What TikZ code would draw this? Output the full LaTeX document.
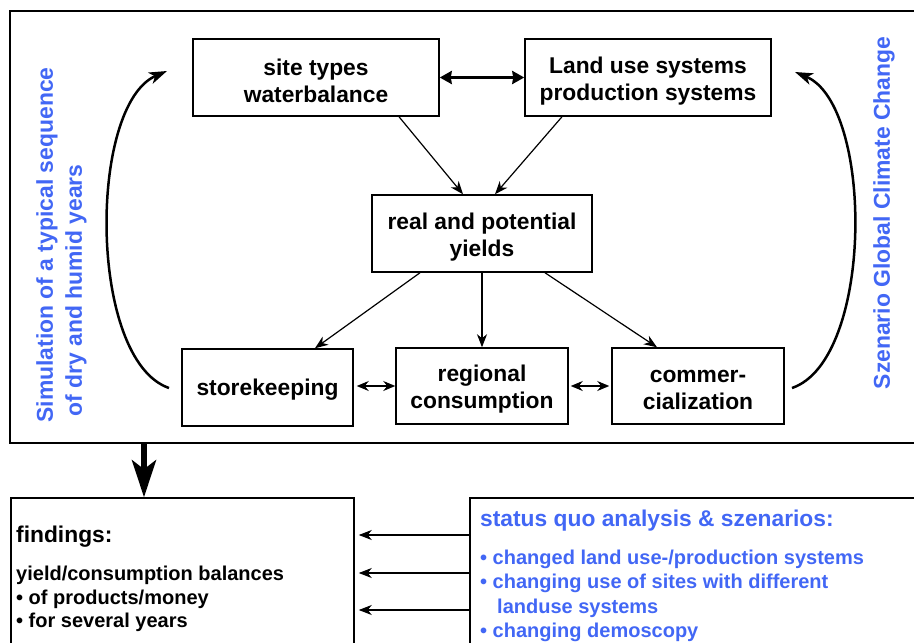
\documentclass[tikz,border=0pt]{standalone}
\usepackage{fontspec}
\setmainfont{Liberation Sans}
\usetikzlibrary{arrows.meta}
\definecolor{lblue}{RGB}{66,103,245}
\begin{document}
\begin{tikzpicture}[x=1pt,y=-1pt,
  box/.style={draw,line width=1.5pt,inner sep=0pt},
  boxtext/.style={align=center,inner sep=0pt,yshift=-3.5pt,
    font=\fontsize{22.8}{27}\selectfont\bfseries},
  frameBox/.style={draw,line width=1.5pt,inner sep=0pt},
  thinarrow/.style={line width=1.2pt,-{Stealth[length=13pt,width=10pt,inset=4pt]}},
  thindouble/.style={line width=1.2pt,{Stealth[length=12pt,width=10pt,inset=4pt]}-{Stealth[length=12pt,width=10pt,inset=4pt]}},
  thickdouble/.style={line width=3.5pt,{Stealth[length=12pt,width=13pt,inset=1pt]}-{Stealth[length=12pt,width=13pt,inset=1pt]}},
  curvearrow/.style={line width=2.5pt,-{Stealth[length=18pt,width=12pt,inset=5pt]}},
  bigarrow/.style={line width=6pt,-{Stealth[length=37pt,width=24pt,inset=9pt]}},
  vlabel/.style={rotate=90,text=lblue,inner sep=0pt,align=left,
    font=\fontsize{22.9}{29}\selectfont\bfseries},
  titletext/.style={inner sep=0pt,anchor=west,font=\fontsize{22.8}{27}\selectfont\bfseries},
  listtext/.style={inner sep=0pt,anchor=north west,align=left,font=\fontsize{20}{24}\selectfont\bfseries}
]
\useasboundingbox (0,0) rectangle (914,643);

% outer frame
\node[frameBox,minimum width=910pt,minimum height=432pt] (frame) at (465,227) {};

% boxes
\node[box,minimum width=246pt,minimum height=77pt,label={[boxtext,name=siteT]center:site types\\waterbalance}] (site) at (316,77.5) {};
\node[box,minimum width=246pt,minimum height=77pt,label={[boxtext,name=landT]center:Land use systems\\production systems}] (land) at (648,77.5) {};
\node[box,minimum width=220pt,minimum height=77pt,label={[boxtext,name=yieldsT]center:real and potential\\yields}] (yields) at (482,233.5) {};
\node[box,minimum width=171pt,minimum height=77pt,label={[boxtext,name=storeT,yshift=1.5pt]center:storekeeping}] (store) at (267.5,387.5) {};
\node[box,minimum width=172pt,minimum height=76pt,label={[boxtext,name=regionalT]center:regional\\consumption}] (regional) at (482,386) {};
\node[box,minimum width=172pt,minimum height=76pt,label={[boxtext,name=commerceT]center:commer-\\cialization}] (commerce) at (698,386) {};

% side labels
\node[vlabel] (lblL) at (61.5,245) {Simulation of a typical sequence\\\hspace*{6pt}of dry and humid years};
\node[vlabel] (lblR) at (884,213) {Szenario Global Climate Change};

% arrows in frame
\draw[thickdouble] (site.east) -- (land.west);
\draw[thinarrow] ([xshift=83pt]site.south) -- ([xshift=-19pt]yields.north);
\draw[thinarrow] ([xshift=-86pt]land.south) -- ([xshift=13pt]yields.north);
\draw[thinarrow] ([xshift=-62pt]yields.south) -- ([xshift=47.5pt]store.north);
\draw[thinarrow] (yields.south) -- (regional.north);
\draw[thinarrow] ([xshift=63pt]yields.south) -- ([xshift=-41pt]commerce.north);
\draw[thindouble,shorten <=3pt] (store.east |- regional.west) -- (regional.west);
\draw[thindouble] ([xshift=2pt]regional.east) -- ([xshift=-2pt]commerce.west);

% curved feedback arrows
\coordinate (cl0) at (169,388);
\coordinate (cl1) at (167,71);
\coordinate (cr0) at (792,388);
\coordinate (cr1) at (795,72);
\draw[curvearrow] (cl0) .. controls (88,360) and (88,105) .. (cl1);
\draw[curvearrow] (cr0) .. controls (874,360) and (874,105) .. (cr1);

% lower boxes
\node[frameBox,minimum width=343pt,minimum height=170pt] (findings) at (182.5,583) {};
\node[frameBox,minimum width=460pt,minimum height=170pt] (status) at (700,583) {};

\coordinate (dn) at (144,443);
\draw[bigarrow] (dn) -- (dn |- findings.north);

\coordinate (s1) at (470,535);
\coordinate (s2) at (470,573);
\coordinate (s3) at (470,610);
\draw[thinarrow,shorten >=4pt] (s1) -- (s1 -| findings.east);
\draw[thinarrow,shorten >=4pt] (s2) -- (s2 -| findings.east);
\draw[thinarrow,shorten >=4pt] (s3) -- (s3 -| findings.east);

% texts in lower boxes
\node[titletext] (ftitle) at (16,537) {findings:};
\node[listtext,font=\fontsize{20}{23.6}\selectfont\bfseries] (flist) at (16,566) {yield/consumption balances\\• of products/money\\• for several years};
\node[titletext,text=lblue] (stitle) at (480,521) {status quo analysis \& szenarios:};
\node[listtext,text=lblue,font=\fontsize{20}{24.3}\selectfont\bfseries] (slist) at (480,550) {• changed land use-/production systems\\• changing use of sites with different\\\hspace*{17pt}landuse systems\\• changing demoscopy};
\end{tikzpicture}
\end{document}
